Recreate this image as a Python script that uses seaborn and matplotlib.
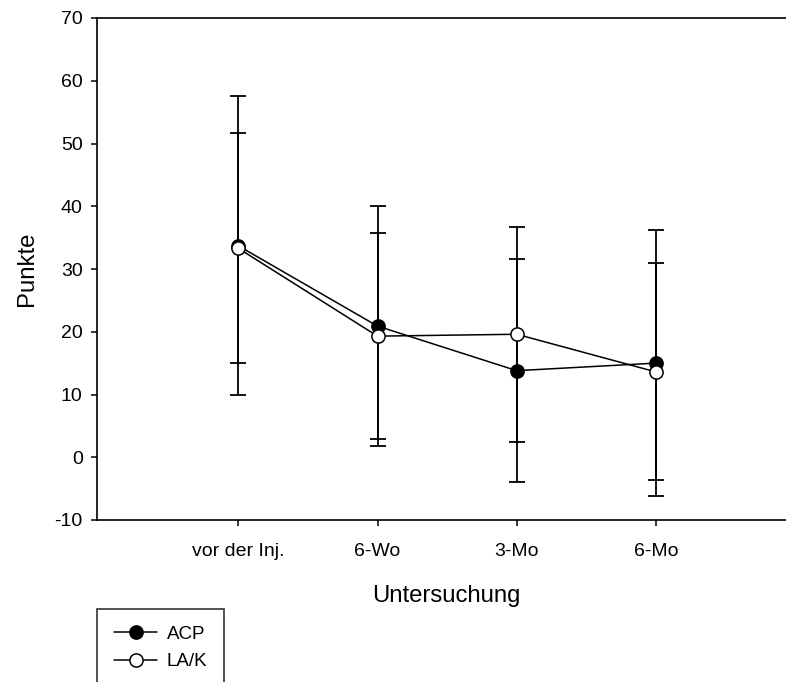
import matplotlib
matplotlib.use("Agg")
import matplotlib.pyplot as plt
import seaborn as sns
import pandas as pd

# Untersuchungszeitpunkte und Gruppenwerte (Mittelwert ± SD)
zeitpunkte = ["vor der Inj.", "6-Wo", "3-Mo", "6-Mo"]
acp_mean = [33.7, 20.9, 13.8, 15.0]
acp_sd = [23.8, 19.1, 17.8, 21.2]
lak_mean = [33.3, 19.3, 19.6, 13.6]
lak_sd = [18.3, 16.4, 17.1, 17.3]
y_ticks = [-10, 0, 10, 20, 30, 40, 50, 60, 70]

sns.set_style("ticks")
plt.rcParams["font.family"] = ["Liberation Sans", "DejaVu Sans"]
plt.rcParams["axes.unicode_minus"] = False
plt.rcParams["text.color"] = "black"
plt.rcParams["axes.labelcolor"] = "black"

pos = list(range(1, len(zeitpunkte) + 1))
df = pd.concat([
    pd.DataFrame({"pos": pos, "mean": acp_mean, "sd": acp_sd, "Gruppe": "ACP"}),
    pd.DataFrame({"pos": pos, "mean": lak_mean, "sd": lak_sd, "Gruppe": "LA/K"}),
])

W, H = 786, 682
fig = plt.figure(figsize=(W / 100, H / 100), dpi=100)
left_px, top_px, bottom_px = 97.3, 18, 520
unit_px = 139.2
x0, x1 = -1.8 / unit_px, 5.0
ax = fig.add_axes([left_px / W, 1 - bottom_px / H,
                   (x1 - x0) * unit_px / W, (bottom_px - top_px) / H])

styles = {"ACP": "black", "LA/K": "white"}
for gruppe, face in styles.items():
    sub = df[df["Gruppe"] == gruppe]
    ax.errorbar(sub["pos"], sub["mean"], yerr=sub["sd"], fmt="none",
                ecolor="black", elinewidth=1.3, capsize=5.8, capthick=1.3,
                zorder=1)
for gruppe, face in styles.items():
    sub = df[df["Gruppe"] == gruppe]
    sns.lineplot(data=sub, x="pos", y="mean", ax=ax, color="black",
                 linewidth=1.1, marker="o", markersize=9.5,
                 markerfacecolor=face, markeredgecolor="black",
                 markeredgewidth=1.1, label=gruppe, zorder=3)

ax.set_xlim(x0, x1)
ax.set_ylim(-10, 70)
ax.set_xticks(pos)
ax.set_xticklabels(zeitpunkte)
ax.set_yticks(y_ticks)
ax.tick_params(axis="both", direction="out", length=4.5, width=1.1,
               labelsize=14, color="black", labelcolor="black")
ax.tick_params(axis="x", pad=12)
ax.tick_params(axis="y", pad=6)
for s in ax.spines.values():
    s.set_linewidth(1.2)
    s.set_color("black")

ax.set_xlabel("Untersuchung", fontsize=17.2, labelpad=18)
ax.set_ylabel("Punkte", fontsize=17.2, labelpad=12)

handles, labels = ax.get_legend_handles_labels()
leg = ax.legend(handles, labels, loc="upper left",
                bbox_to_anchor=(left_px / W, 1 - 609 / H),
                bbox_transform=fig.transFigure, borderaxespad=0,
                fontsize=13.5, frameon=True, fancybox=False, shadow=False,
                borderpad=0.9, handlelength=2.3, handletextpad=0.5,
                labelspacing=0.55)
leg.get_frame().set_edgecolor("black")
leg.get_frame().set_linewidth(1.2)
leg.get_frame().set_facecolor("white")

fig.savefig("out.png", dpi=100)
